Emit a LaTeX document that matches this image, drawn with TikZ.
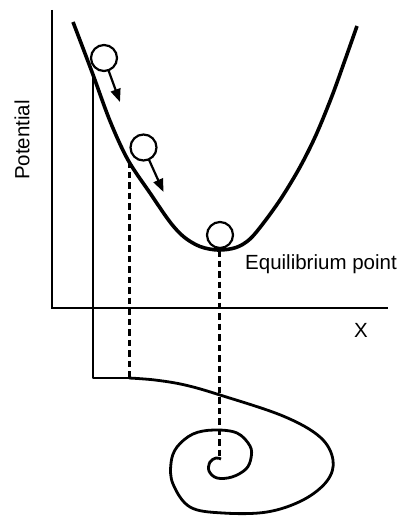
\documentclass[tikz,border=0pt]{standalone}
\usepackage{fontspec}
\setsansfont{Liberation Sans}
\usetikzlibrary{arrows.meta}
\tikzset{
  axisline/.style={line width=2.1pt},
  well/.style={line width=3.6pt, line join=round},
  ball/.style={circle, draw, line width=2.2pt, minimum size=26pt, inner sep=0pt},
  roll/.style={-{Triangle[length=13pt,width=10pt]}, line width=2.2pt, shorten <=-1pt},
  trace/.style={line width=2.8pt, line join=round},
  guide/.style={line width=3pt, dash pattern=on 6.5pt off 4pt},
  axlabel/.style={font=\sffamily\fontsize{20.5}{24}\selectfont, inner sep=0pt},
}

\begin{document}
\begin{tikzpicture}[x=1pt, y=-1pt]
  \useasboundingbox (0,0) rectangle (401,516);
  \coordinate (yTop) at (52,10);
  \coordinate (origin) at (52,308);
  \coordinate (xEnd) at (388,308);
  \draw[axisline] (yTop) -- (origin) -- (xEnd);
  \node[axlabel, rotate=90] (pot) at (22,140) {Potential};
  \node[axlabel, anchor=base] (xlab) at (361,337) {X};
  \draw[well] plot[smooth, tension=0.55] coordinates {(73,22) (92,72) (110,121) (128,160)
    (150,193) (170,222) (184,237) (200,246.5) (218,250) (236,247.5) (250,239) (265,221)
    (282,197) (300,167) (316,135) (332,96) (345,60) (357,26)};
  \node[ball] (ballA) at (104,58) {};
  \node[ball] (ballB) at (143.5,147.5) {};
  \node[ball] (ballC) at (220,235) {};
  \coordinate (tipA) at (120,102);
  \coordinate (tipB) at (163.5,192);
  \draw[roll] (ballA) -- (tipA);
  \draw[roll] (ballB) -- (tipB);
  \node[axlabel, anchor=base west] (eq) at (245,269) {Equilibrium point};
  \coordinate (startA) at (93,77);
  \coordinate (startB) at (129,161);
  \coordinate (startC) at (219,250);
  \coordinate (cornerA) at (93,378);
  \coordinate (cornerB) at (129,378);
  \coordinate (eye) at (219,456);
  \draw[guide] (startB) -- (cornerB);
  \draw[guide] (startC) -- (eye);
  \draw[trace] (startA) -- (cornerA) -- (cornerB);
  \draw[trace] plot[smooth, tension=0.6] coordinates {(129,378) (155,380) (185,385) (220,395)
    (283,416) (320,437) (333,460) (327,481) (303,500) (267,512) (223,513) (190,507)
    (173,484) (171,463) (177,447) (193,434) (214,430) (237,433) (250,446) (251,458)
    (246,469) (232,477) (217,478) (209,471) (210,462) (216,458) (221,459)};
\end{tikzpicture}
\end{document}
